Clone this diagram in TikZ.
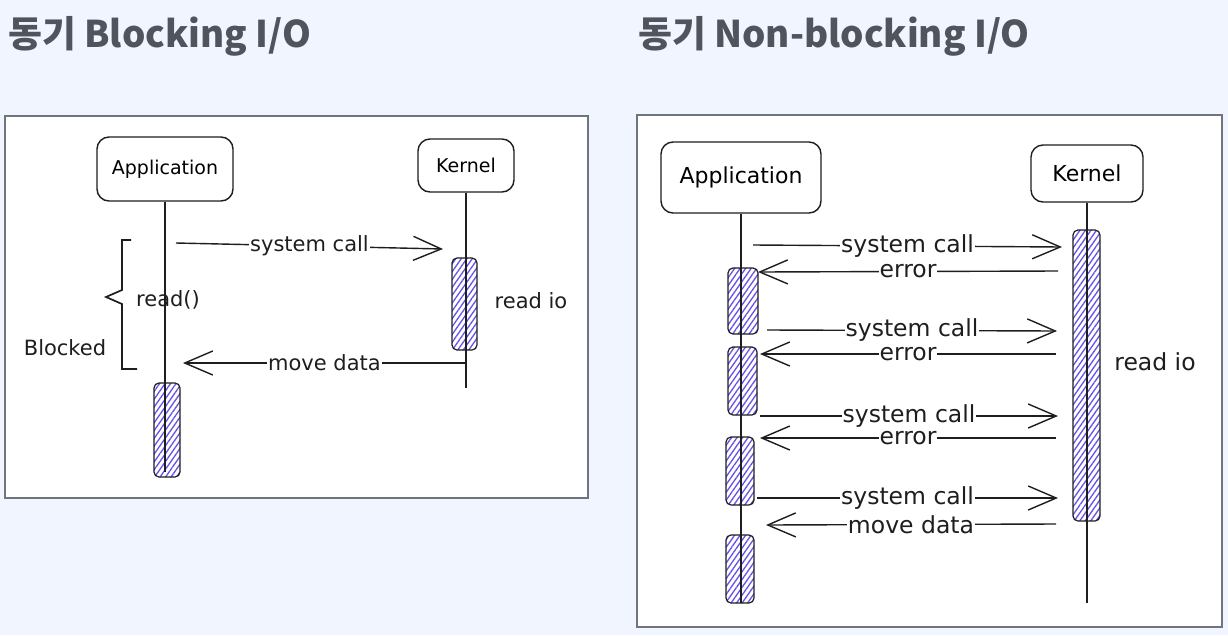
\documentclass[tikz,border=0pt]{standalone}
\usepackage{fontspec}
\setmainfont{DejaVu Sans}
\newfontfamily\kr{Noto Sans CJK KR}
\usetikzlibrary{arrows.meta,patterns.meta}
\definecolor{bg}{HTML}{F0F5FF}
\definecolor{ttl}{HTML}{50545C}
\definecolor{frm}{HTML}{70747B}
\definecolor{ink}{HTML}{1E1E1E}
\definecolor{hatch}{HTML}{6452E6}
\begin{document}
\begin{tikzpicture}[x=1pt,y=-1pt,
  title/.style={anchor=base west,inner sep=0pt,text=ttl,font=\kr\bfseries\fontsize{36.8}{42}\selectfont},
  frame/.style={draw=frm,line width=1.6pt,fill=white},
  actor/.style={draw=ink,line width=1.4pt,rounded corners=12pt,fill=white,inner sep=0pt},
  asmall/.style={font=\fontsize{19}{22}\selectfont},
  abig/.style={font=\fontsize{22}{26}\selectfont},
  lsmall/.style={font=\fontsize{21}{24}\selectfont},
  lbig/.style={font=\fontsize{23.5}{27}\selectfont},
  bar/.style={draw=ink,line width=1.2pt,rounded corners=5pt,inner sep=0pt,
    preaction={fill=white},pattern={Lines[angle=55,distance=4.5pt,line width=1.3pt]},pattern color=hatch},
  life/.style={draw=ink,line width=1.3pt},
  msg/.style={draw=ink,line width=1.4pt,-{Straight Barb[length=28pt,width=24pt,line width=1.4pt]}},
  lbl/.style={fill=white,inner sep=1pt,text=ink},
  txt/.style={inner sep=0pt,text=ink}]
\fill[bg] (0,0) rectangle (1228,635);
\useasboundingbox (0,0) rectangle (1228,635);

% titles
\node[title] (t1) at (8,47) {동기 Blocking I/O};
\node[title] (t2) at (638,47) {동기 Non-blocking I/O};

% ===== left diagram =====
\node[frame,minimum width=583pt,minimum height=382pt,inner sep=0pt] (lf) at (296.5,307) {};
\node[actor,asmall,minimum width=136pt,minimum height=64pt] (lapp) at (165,169) {Application};
\node[actor,asmall,minimum width=96pt,minimum height=53pt] (lker) at (466,165.5) {Kernel};
\node[bar,minimum width=25pt,minimum height=92pt] (lkbar) at (464.5,304) {};
\node[bar,minimum width=26pt,minimum height=94pt] (labar) at (167,430) {};
\coordinate (lappend) at (165,472);
\coordinate (lkerend) at (466,388);
\draw[life] (lapp.south) -- (lappend);
\draw[life] (lker.south) -- (lkerend);

\coordinate (ls1) at (176,243);
\coordinate (ls2) at (443,249);
\draw[msg] (ls1) -- node[lbl,lsmall] (lsc) {system call} (ls2);
\coordinate (lm1) at (466,363);
\coordinate (lm2) at (183,363);
\draw[msg] (lm1) -- node[lbl,lsmall] (lmd) {move data} (lm2);

\node[txt,lsmall] (lrio) at (531,301) {read io};
\node[txt,lsmall] (lread) at (168,300) {read()};
\node[txt,lsmall] (lblk) at (65,348) {Blocked};
\coordinate (brt) at (131,240);
\coordinate (brb) at (137,369);
\draw[ink,line width=1.7pt] (brt) -- (122,240) -- (122,290) -- (106,297) -- (122,304) -- (122,369) -- (brb);

% ===== right diagram =====
\node[frame,minimum width=585pt,minimum height=512pt,inner sep=0pt] (rf) at (929.5,371) {};
\node[actor,abig,minimum width=160pt,minimum height=71pt] (rapp) at (741,177.5) {Application};
\node[actor,abig,minimum width=112pt,minimum height=57pt] (rker) at (1087,173.5) {Kernel};
\node[bar,minimum width=27pt,minimum height=291pt] (rkbar) at (1086.5,375.5) {};
\node[bar,minimum width=30pt,minimum height=66pt] (rab1) at (743,301) {};
\node[bar,minimum width=29pt,minimum height=68pt] (rab2) at (742.5,381) {};
\node[bar,minimum width=28pt,minimum height=68pt] (rab3) at (740,471) {};
\node[bar,minimum width=28pt,minimum height=68pt] (rab4) at (740,569) {};
\coordinate (rappend) at (741,603);
\coordinate (rkerend) at (1087,603);
\draw[life] (rapp.south) -- (rappend);
\draw[life] (rker.south) -- (rkerend);

\coordinate (a1s) at (753,245);  \coordinate (a1e) at (1062,247);
\coordinate (a2s) at (1058,271); \coordinate (a2e) at (758,272);
\coordinate (a3s) at (767,330);  \coordinate (a3e) at (1057,331);
\coordinate (a4s) at (1056,354); \coordinate (a4e) at (760,354);
\coordinate (a5s) at (760,416);  \coordinate (a5e) at (1058,416);
\coordinate (a6s) at (1056,438); \coordinate (a6e) at (760,438);
\coordinate (a7s) at (757,498);  \coordinate (a7e) at (1058,498);
\coordinate (a8s) at (1056,524); \coordinate (a8e) at (766,525);
\draw[msg] (a1s) -- node[lbl,lbig] (l1) {system call} (a1e);
\draw[msg] (a2s) -- node[lbl,lbig] (l2) {error} (a2e);
\draw[msg] (a3s) -- node[lbl,lbig] (l3) {system call} (a3e);
\draw[msg] (a4s) -- node[lbl,lbig] (l4) {error} (a4e);
\draw[msg] (a5s) -- node[lbl,lbig] (l5) {system call} (a5e);
\draw[msg] (a6s) -- node[lbl,lbig] (l6) {error} (a6e);
\draw[msg] (a7s) -- node[lbl,lbig] (l7) {system call} (a7e);
\draw[msg] (a8s) -- node[lbl,lbig] (l8) {move data} (a8e);
\node[txt,lbig] (rrio) at (1155,362) {read io};
\end{tikzpicture}
\end{document}
